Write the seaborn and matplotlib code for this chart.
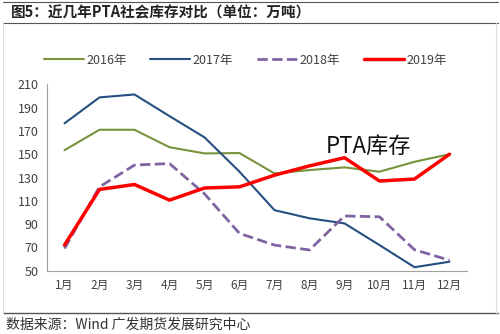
import matplotlib
matplotlib.use("Agg")
import matplotlib.pyplot as plt
import seaborn as sns
import pandas as pd
import numpy as np

months = ["1月", "2月", "3月", "4月", "5月", "6月", "7月", "8月", "9月", "10月", "11月", "12月"]
y2016 = [153.5, 171, 171, 156, 150.7, 151, 133.5, 136.4, 138.7, 135, 143.5, 150]
y2017 = [176.5, 198.8, 201.3, 182.7, 164.5, 135, 102, 95, 90.6, 72, 53, 57.7]
y2018 = [69, 122, 140.7, 142, 116, 82, 72, 67.8, 97, 96.3, 68, 59]
y2019 = [72, 119.8, 124, 110.6, 121, 122, 132, 140, 147, 127, 128.7, 150]
series_names = ["2016年", "2017年", "2018年", "2019年"]
yticks = [50, 70, 90, 110, 130, 150, 170, 190, 210]

sns.set_theme(style="white")
plt.rcParams['font.family'] = ['Noto Sans CJK SC', 'DejaVu Sans']

rows = []
for name, vals in zip(series_names, [y2016, y2017, y2018, y2019]):
    for i, (m, v) in enumerate(zip(months, vals)):
        rows.append({"idx": i, "month": m, "value": v, "series": name})
df = pd.DataFrame(rows)

fig = plt.figure(figsize=(5, 3.34), dpi=100)
ax = fig.add_axes([0.094, 0.1895, 0.84, 0.558])

palette = {"2016年": "#77933C", "2017年": "#254F80", "2018年": "#8064A2", "2019年": "#FF0000"}
widths = {"2016年": 1.5, "2017年": 1.5, "2018年": 2.0, "2019年": 2.5}
styles = {"2016年": "-", "2017年": "-", "2018年": "--", "2019年": "-"}
for name in series_names:
    sub = df[df.series == name]
    sns.lineplot(data=sub, x="idx", y="value", ax=ax, color=palette[name],
                 lw=widths[name], linestyle=styles[name], label=name, legend=False)

ax.set_xlim(-0.5, 11.5)
ax.set_ylim(50, 210)
ax.set_yticks(yticks)
ax.set_yticklabels([str(t) for t in yticks], fontsize=9, color="#404040")
ax.set_xticks(range(12))
ax.set_xticklabels(months, fontsize=8.5, color="#404040")
ax.tick_params(axis="x", which="major", length=0, pad=6)
ax.set_xticks(np.arange(-0.5, 12, 1), minor=True)
ax.tick_params(axis="x", which="minor", length=4, color="#A0A0A0", direction="out")
ax.tick_params(axis="y", which="major", length=4, color="#A0A0A0", direction="out", pad=2)
ax.set_xlabel("")
ax.set_ylabel("")
for s in ["top", "right"]:
    ax.spines[s].set_visible(False)
for s in ["left", "bottom"]:
    ax.spines[s].set_color("#A0A0A0")
    ax.spines[s].set_linewidth(0.8)

ax.text(8.7, 157, "PTA库存", fontsize=16, color="#111111", ha="center", va="center")

handles, labels = ax.get_legend_handles_labels()
fig.legend(handles, labels, loc="center", bbox_to_anchor=(0.49, 0.82), ncol=4,
           frameon=False, fontsize=9, handlelength=3.2, columnspacing=1.9,
           handletextpad=0.2, labelcolor="#404040")

# Title and frame lines
fig.text(0.022, 0.962, "图5：近几年PTA社会库存对比（单位：万吨）", fontsize=10.5,
         fontweight="bold", color="#222222", ha="left", va="center")
fig.add_artist(plt.Line2D([0.005, 0.995], [0.995, 0.995], color="#555555", lw=0.8))
fig.add_artist(plt.Line2D([0.005, 0.995], [0.93, 0.93], color="#555555", lw=0.8))
fig.add_artist(plt.Line2D([0.005, 0.995], [0.063, 0.063], color="#555555", lw=1.0))
fig.add_artist(plt.Line2D([0.006, 0.006], [0.063, 0.93], color="#DDDDDD", lw=0.8))
fig.add_artist(plt.Line2D([0.992, 0.992], [0.063, 0.93], color="#DDDDDD", lw=0.8))
fig.text(0.012, 0.028, "数据来源：Wind 广发期货发展研究中心", fontsize=10,
         color="#333333", ha="left", va="center")

fig.savefig("out.png", dpi=100)
